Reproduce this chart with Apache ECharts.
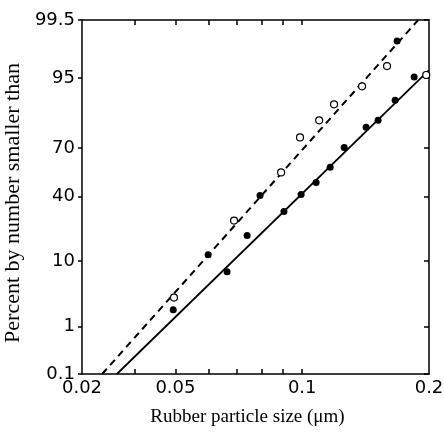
<!DOCTYPE html>
<html>
<head>
<meta charset="utf-8">
<title>Rubber particle size</title>
<script src="https://cdn.jsdelivr.net/npm/echarts@6/dist/echarts.min.js"></script>
<style>
  html, body { margin: 0; padding: 0; background: #fff; }
</style>
</head>
<body>
<div id="main" style="width: 444px;height:436px;"></div>
<script type="text/javascript">
// values (size in um, percent smaller than)
var openSize = [0.0496, 0.0689, 0.0891, 0.0988, 0.1097, 0.119, 0.1387, 0.159, 0.197];
var openPct = [3.1, 26.3, 55.4, 75.7, 83.4, 89.0, 93.5, 96.7, 95.5];

var filledSize = [0.0494, 0.0598, 0.0663, 0.0740, 0.0794, 0.0905, 0.0994, 0.1079, 0.1165, 0.1258, 0.1418, 0.1514, 0.1662, 0.168, 0.1844];
var filledPct = [1.96, 11.9, 7.3, 19.1, 40.8, 31.2, 41.4, 49.0, 58.6, 70.4, 80.5, 83.4, 90.2, 98.74, 95.2];

// fitted lines (end points)
var dashedSize = [0.0335, 0.1885];
var dashedPct = [0.1, 99.5];
var solidSize = [0.0363, 0.2];
var solidPct = [0.1, 96.2];

// axes
var xRange = [0.03, 0.2];
var xTickVals = [0.03, 0.05, 0.1, 0.2];
var xTickLabels = ['0.02', '0.05', '0.1', '0.2'];
var xMinorTicks = [0.04, 0.05, 0.06, 0.07, 0.08, 0.09, 0.1];
var yTickVals = [0.1, 1, 10, 40, 70, 95, 99.5];

// inverse normal cdf (Acklam)
function probit(p) {
    var a = [-3.969683028665376e+01, 2.209460984245205e+02, -2.759285104469687e+02, 1.383577518672690e+02, -3.066479806614716e+01, 2.506628277459239e+00];
    var b = [-5.447609879822406e+01, 1.615858368580409e+02, -1.556989798598866e+02, 6.680131188771972e+01, -1.328068155288572e+01];
    var c = [-7.784894002430293e-03, -3.223964580411365e-01, -2.400758277161838e+00, -2.549732539343734e+00, 4.374664141464968e+00, 2.938163982698783e+00];
    var d = [7.784695709041462e-03, 3.224671290700398e-01, 2.445134137142996e+00, 3.754408661907416e+00];
    var plow = 0.02425, q, r;
    if (p < plow) {
        q = Math.sqrt(-2 * Math.log(p));
        return (((((c[0]*q+c[1])*q+c[2])*q+c[3])*q+c[4])*q+c[5]) / ((((d[0]*q+d[1])*q+d[2])*q+d[3])*q+1);
    }
    if (p <= 1 - plow) {
        q = p - 0.5; r = q * q;
        return (((((a[0]*r+a[1])*r+a[2])*r+a[3])*r+a[4])*r+a[5])*q / (((((b[0]*r+b[1])*r+b[2])*r+b[3])*r+b[4])*r+1);
    }
    q = Math.sqrt(-2 * Math.log(1 - p));
    return -(((((c[0]*q+c[1])*q+c[2])*q+c[3])*q+c[4])*q+c[5]) / ((((d[0]*q+d[1])*q+d[2])*q+d[3])*q+1);
}
function fx(v) { return Math.log10(v); }
function fy(v) { return probit(v / 100); }
function pts(xs, ys) {
    return xs.map(function (x, i) { return [fx(x), fy(ys[i])]; });
}
function pick(vals, labels, f) {
    return function (v) {
        for (var i = 0; i < vals.length; i++) {
            if (Math.abs(f(vals[i]) - v) < 1e-6) return labels[i];
        }
        return '';
    };
}

var myChart = echarts.init(document.getElementById('main'));

var black = '#000';
var lineStyle = { color: black, width: 1.5 };
var labelFont = { color: black, fontFamily: 'DejaVu Sans', fontSize: 18 };

option = {
    backgroundColor: '#fff',
    animation: false,
    grid: { left: 82, right: 15, top: 20, bottom: 62, containLabel: false, outerBoundsMode: 'none' },
    xAxis: [{
        type: 'value',
        position: 'bottom',
        min: fx(xRange[0]),
        max: fx(xRange[1]),
        axisLine: { onZero: false, lineStyle: lineStyle },
        axisTick: { inside: true, length: 5, lineStyle: lineStyle, customValues: xMinorTicks.map(fx) },
        axisLabel: Object.assign({
            margin: 5,
            customValues: xTickVals.map(fx),
            formatter: pick(xTickVals, xTickLabels, fx)
        }, labelFont),
        splitLine: { show: false },
        name: 'Rubber particle size (\u03bcm)',
        nameLocation: 'middle',
        nameGap: 34,
        nameTextStyle: { color: black, fontFamily: 'Liberation Serif', fontSize: 19, padding: [0, 16, 0, 0] }
    }, {
        type: 'value',
        position: 'top',
        min: fx(xRange[0]),
        max: fx(xRange[1]),
        axisLine: { onZero: false, lineStyle: lineStyle },
        axisTick: { inside: true, length: 5, lineStyle: lineStyle, customValues: xMinorTicks.map(fx) },
        axisLabel: { show: false },
        splitLine: { show: false }
    }],
    yAxis: [{
        type: 'value',
        position: 'left',
        min: fy(yTickVals[0]),
        max: fy(yTickVals[yTickVals.length - 1]),
        axisLine: { onZero: false, lineStyle: lineStyle },
        axisTick: { inside: false, length: 4, lineStyle: lineStyle, customValues: yTickVals.map(fy) },
        axisLabel: Object.assign({
            margin: 7,
            customValues: yTickVals.map(fy),
            formatter: pick(yTickVals, yTickVals.map(String), fy)
        }, labelFont),
        splitLine: { show: false },
        name: 'Percent by number smaller than',
        nameLocation: 'middle',
        nameGap: 45,
        nameTextStyle: { color: black, fontFamily: 'Liberation Serif', fontSize: 22, padding: [0, 12, 0, 0] }
    }, {
        type: 'value',
        position: 'right',
        min: fy(yTickVals[0]),
        max: fy(yTickVals[yTickVals.length - 1]),
        axisLine: { onZero: false, lineStyle: lineStyle },
        axisTick: { inside: true, length: 5, lineStyle: lineStyle, customValues: yTickVals.map(fy) },
        axisLabel: { show: false },
        splitLine: { show: false }
    }],
    series: [{
        type: 'line',
        data: pts(dashedSize, dashedPct),
        symbol: 'none',
        lineStyle: { color: black, width: 2, type: [7, 5] },
        z: 2
    }, {
        type: 'line',
        data: pts(solidSize, solidPct),
        symbol: 'none',
        lineStyle: { color: black, width: 1.8 },
        z: 2
    }, {
        type: 'scatter',
        data: pts(openSize, openPct),
        symbol: 'circle',
        symbolSize: 7,
        itemStyle: { color: '#fff', borderColor: black, borderWidth: 1.2, opacity: 1 },
        z: 3
    }, {
        type: 'scatter',
        data: pts(filledSize, filledPct),
        symbol: 'circle',
        symbolSize: 7,
        itemStyle: { color: black, opacity: 1 },
        z: 3
    }]
};

myChart.setOption(option);
</script>
</body>
</html>
